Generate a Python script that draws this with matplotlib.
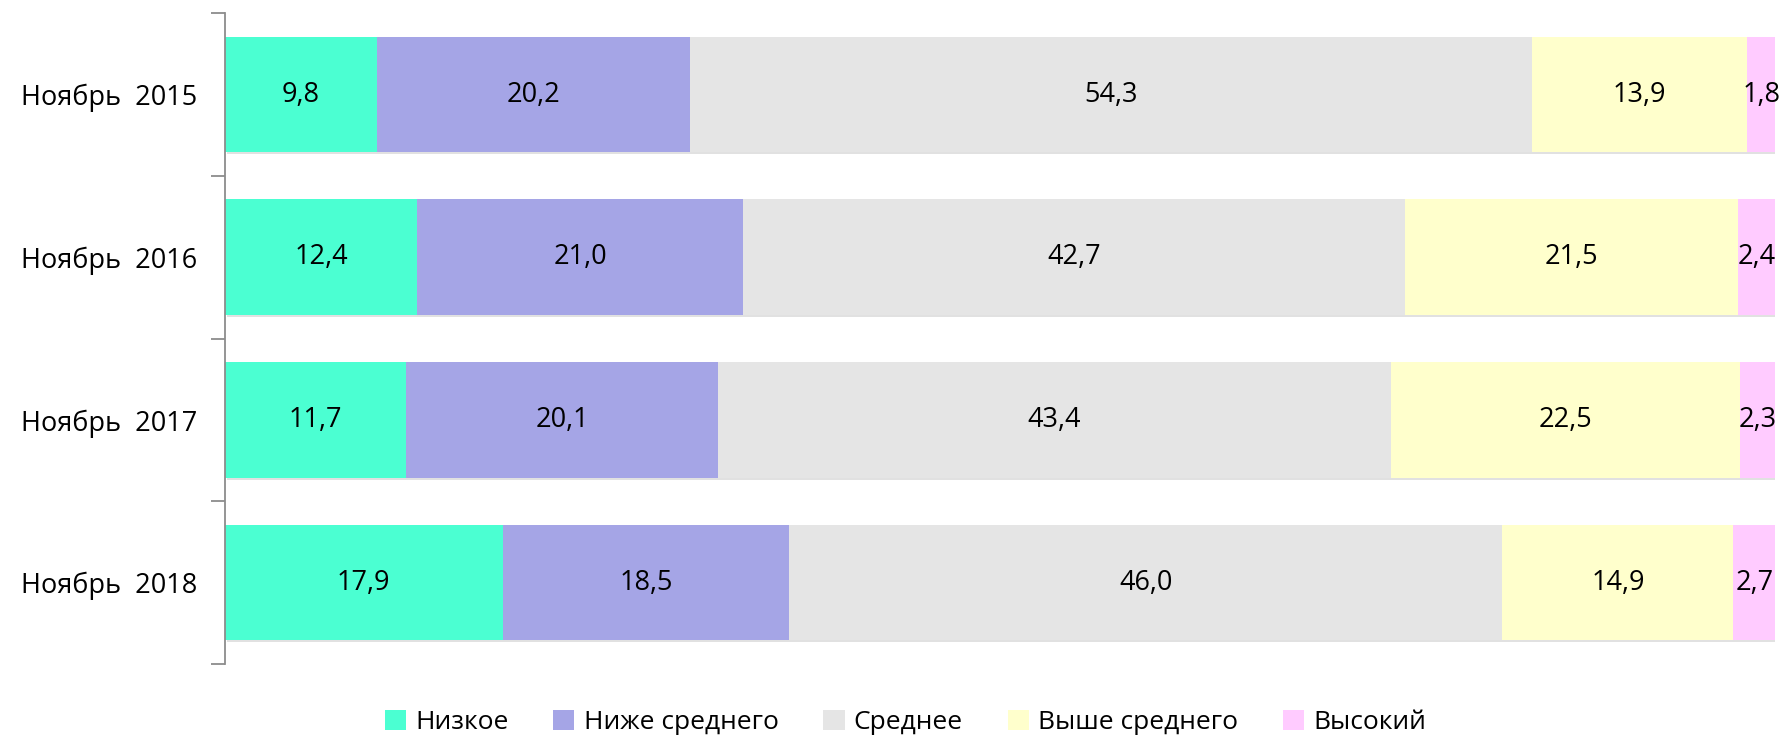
import matplotlib
matplotlib.use("Agg")
import matplotlib.pyplot as plt
import matplotlib.patheffects as pe
from matplotlib.patches import Patch
import numpy as np

plt.rcParams['font.family'] = ['Open Sans', 'DejaVu Sans']

# data
periods = ["Ноябрь  2015", "Ноябрь  2016", "Ноябрь  2017", "Ноябрь  2018"]
levels = ["Низкое", "Ниже среднего", "Среднее", "Выше среднего", "Высокий"]
nizkoe = [9.8, 12.4, 11.7, 17.9]
nizhe = [20.2, 21.0, 20.1, 18.5]
srednee = [54.3, 42.7, 43.4, 46.0]
vyshe = [13.9, 21.5, 22.5, 14.9]
vysokiy = [1.8, 2.4, 2.3, 2.7]
series = [nizkoe, nizhe, srednee, vyshe, vysokiy]
colors = ["#4BFFD2", "#A5A5E6", "#E5E5E5", "#FFFFCC", "#FFCBFF"]

fig = plt.figure(figsize=(17.86, 7.36), dpi=100)
ax = fig.add_axes([0.126, 0.098, 0.868, 0.884])

y = np.arange(len(periods))
left = np.zeros(len(periods))
shadow = [pe.SimplePatchShadow(offset=(1.5, -1.5), shadow_rgbFace="#aaaaaa", alpha=0.35), pe.Normal()]
for vals, col in zip(series, colors):
    vals = np.array(vals)
    bars = ax.barh(y, vals, left=left, height=0.71, color=col, edgecolor="none")
    for b in bars:
        b.set_path_effects(shadow)
    for yi, l, v in zip(y, left, vals):
        ax.text(l + v / 2, yi, f"{v:.1f}".replace(".", ","), ha="center", va="center",
                fontsize=19.5, color="black")
    left += vals

ax.set_xlim(0, 100)
ax.set_ylim(len(periods) - 0.5, -0.5)
ax.set_yticks(y)
ax.set_yticklabels(periods, fontsize=19.5)
ax.tick_params(axis="y", which="major", length=0, pad=20)
ax.set_yticks(np.arange(-0.5, len(periods)), minor=True)
ax.tick_params(axis="y", which="minor", length=10, width=1.3, color="#8c8c8c")
ax.set_xticks([])
for s in ["top", "right", "bottom"]:
    ax.spines[s].set_visible(False)
ax.spines["left"].set_color("#8c8c8c")
ax.spines["left"].set_linewidth(1.3)

handles = [Patch(facecolor=c, edgecolor="none") for c in colors]
fig.legend(handles, levels, loc="center", bbox_to_anchor=(0.507, 0.018), ncol=5,
           frameon=False, fontsize=19, handlelength=0.8, handleheight=0.8,
           handletextpad=0.35, columnspacing=1.7)

fig.savefig("out.png", dpi=100)
